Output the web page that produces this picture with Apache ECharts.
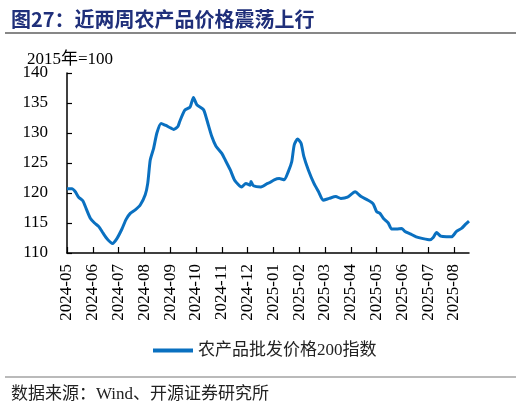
<!DOCTYPE html>
<html><head><meta charset="utf-8">
<script src="https://cdn.jsdelivr.net/npm/echarts@6/dist/echarts.min.js"></script>
<style>html,body{margin:0;padding:0;background:#fff}#c{width:522px;height:407px}</style>
</head><body><div id="c"></div>
<script>
const monthLabels = ['2024-05','2024-06','2024-07','2024-08','2024-09','2024-10','2024-11','2024-12','2025-01','2025-02','2025-03','2025-04','2025-05','2025-06','2025-07','2025-08'];
const dates = ['2024-05-01','2024-05-07','2024-05-11','2024-05-15','2024-05-20','2024-05-24','2024-05-29',
'2024-06-03','2024-06-08','2024-06-13','2024-06-18','2024-06-24','2024-06-29',
'2024-07-05','2024-07-10','2024-07-15','2024-07-21','2024-07-27',
'2024-08-02','2024-08-05','2024-08-08','2024-08-12','2024-08-16','2024-08-21','2024-08-26',
'2024-09-02','2024-09-05','2024-09-10','2024-09-12','2024-09-18','2024-09-24','2024-09-28',
'2024-10-02','2024-10-10','2024-10-14','2024-10-20','2024-10-25',
'2024-11-01','2024-11-05','2024-11-11','2024-11-16','2024-11-24','2024-11-29',
'2024-12-04','2024-12-05','2024-12-08','2024-12-17','2024-12-25','2024-12-27',
'2025-01-02','2025-01-08','2025-01-14','2025-01-19','2025-01-23','2025-01-26','2025-01-30',
'2025-02-03','2025-02-06','2025-02-11','2025-02-17','2025-02-22','2025-02-27',
'2025-03-06','2025-03-14','2025-03-20','2025-03-28',
'2025-04-06','2025-04-13','2025-04-21','2025-04-27',
'2025-05-01','2025-05-05','2025-05-09','2025-05-15','2025-05-19','2025-05-25','2025-05-31',
'2025-06-04','2025-06-10','2025-06-17','2025-06-25',
'2025-07-03','2025-07-07','2025-07-11','2025-07-16','2025-07-23','2025-07-29',
'2025-08-04','2025-08-10','2025-08-15','2025-08-19'];
const indexValues = [120.7,120.7,120.2,119.3,118.7,117.4,115.8,
115.0,114.4,113.3,112.3,111.6,112.4,
114.0,115.6,116.6,117.2,118.0,
119.7,121.6,125.5,127.4,130.0,131.6,131.3,
130.8,130.6,131.1,131.9,133.8,134.3,135.9,
134.7,133.9,132.2,129.4,127.8,
126.6,125.5,123.8,122.1,121.0,121.6,
121.3,121.9,121.2,121.0,121.6,121.7,
122.2,122.4,122.2,123.6,125.2,128.0,129.0,
128.3,126.1,123.8,121.6,120.2,118.8,
119.1,119.4,119.1,119.3,
120.2,119.4,118.8,118.2,
116.9,116.6,115.8,115.0,114.0,114.0,114.1,
113.6,113.2,112.7,112.4,
112.2,112.6,113.4,112.8,112.7,112.7,
113.6,114.1,114.8,115.3];
const yTicks = {min:110, max:140, step:5};

function monthPos(s){
  const [y,m,d] = s.split('-').map(Number);
  const idx = (y-2024)*12 + (m-5);
  const dim = new Date(y, m, 0).getDate();
  return idx + (d-1)/dim;
}
const seriesData = dates.map((d,i)=>[monthPos(d), indexValues[i]]);
const xMax = seriesData[seriesData.length-1][0];

const chart = echarts.init(document.getElementById('c'), null, {renderer:'canvas'});
const serif = "'Liberation Serif','DejaVu Serif',serif";
const cjk = "'Liberation Serif','Noto Sans CJK SC',serif";
chart.setOption({
  animation:false,
  backgroundColor:'#fff',
  title:[
    {text:'图27：近两周农产品价格震荡上行', left:6, top:4,
     textStyle:{fontFamily:"'Noto Sans CJK SC'", fontWeight:'bold', fontSize:20, color:'#1f2f7a'}},
    {text:'2015年=100', left:22, top:46,
     textStyle:{fontFamily:cjk, fontWeight:'normal', fontSize:17, color:'#000'}},
    {text:'数据来源：Wind、开源证券研究所', left:6, top:381,
     textStyle:{fontFamily:cjk, fontWeight:'normal', fontSize:17, color:'#222'}}
  ],
  graphic:[
    {type:'line', shape:{x1:5,y1:33,x2:516,y2:33}, style:{stroke:'#111', lineWidth:1.2}},
    {type:'line', shape:{x1:5,y1:377,x2:516,y2:377}, style:{stroke:'#777', lineWidth:1.2}}
  ],
  legend:{
    show:true, left:148, top:337, itemWidth:40, itemHeight:4, itemGap:6,
    icon:'rect',
    textStyle:{fontFamily:cjk, fontSize:17, color:'#222'},
    data:['农产品批发价格200指数']
  },
  grid:{left:67, right:53, top:73, bottom:154, containLabel:false},
  xAxis:{
    type:'value', min:0, max:xMax, interval:1,
    axisLine:{show:true, lineStyle:{color:'#000', width:1.5}},
    axisTick:{show:true, inside:true, length:6, lineStyle:{color:'#000', width:1.2}},
    splitLine:{show:false},
    axisLabel:{rotate:90, margin:11, fontFamily:serif, fontSize:17, color:'#000',
      showMaxLabel:false,
      formatter:v => (Number.isInteger(v) && monthLabels[v]) ? monthLabels[v] : ''}
  },
  yAxis:{
    type:'value', min:yTicks.min, max:yTicks.max, interval:yTicks.step,
    axisLine:{show:true, lineStyle:{color:'#000', width:1.5}},
    axisTick:{show:true, inside:true, length:5, lineStyle:{color:'#000', width:1.2}},
    splitLine:{show:false},
    axisLabel:{margin:19, fontFamily:serif, fontSize:17, color:'#000'}
  },
  series:[{
    name:'农产品批发价格200指数', type:'line', data:seriesData,
    showSymbol:false, symbol:'none', smooth:0.2,
    lineStyle:{color:'#0a70c0', width:3}, itemStyle:{color:'#0a70c0'}
  }]
});
</script></body></html>
